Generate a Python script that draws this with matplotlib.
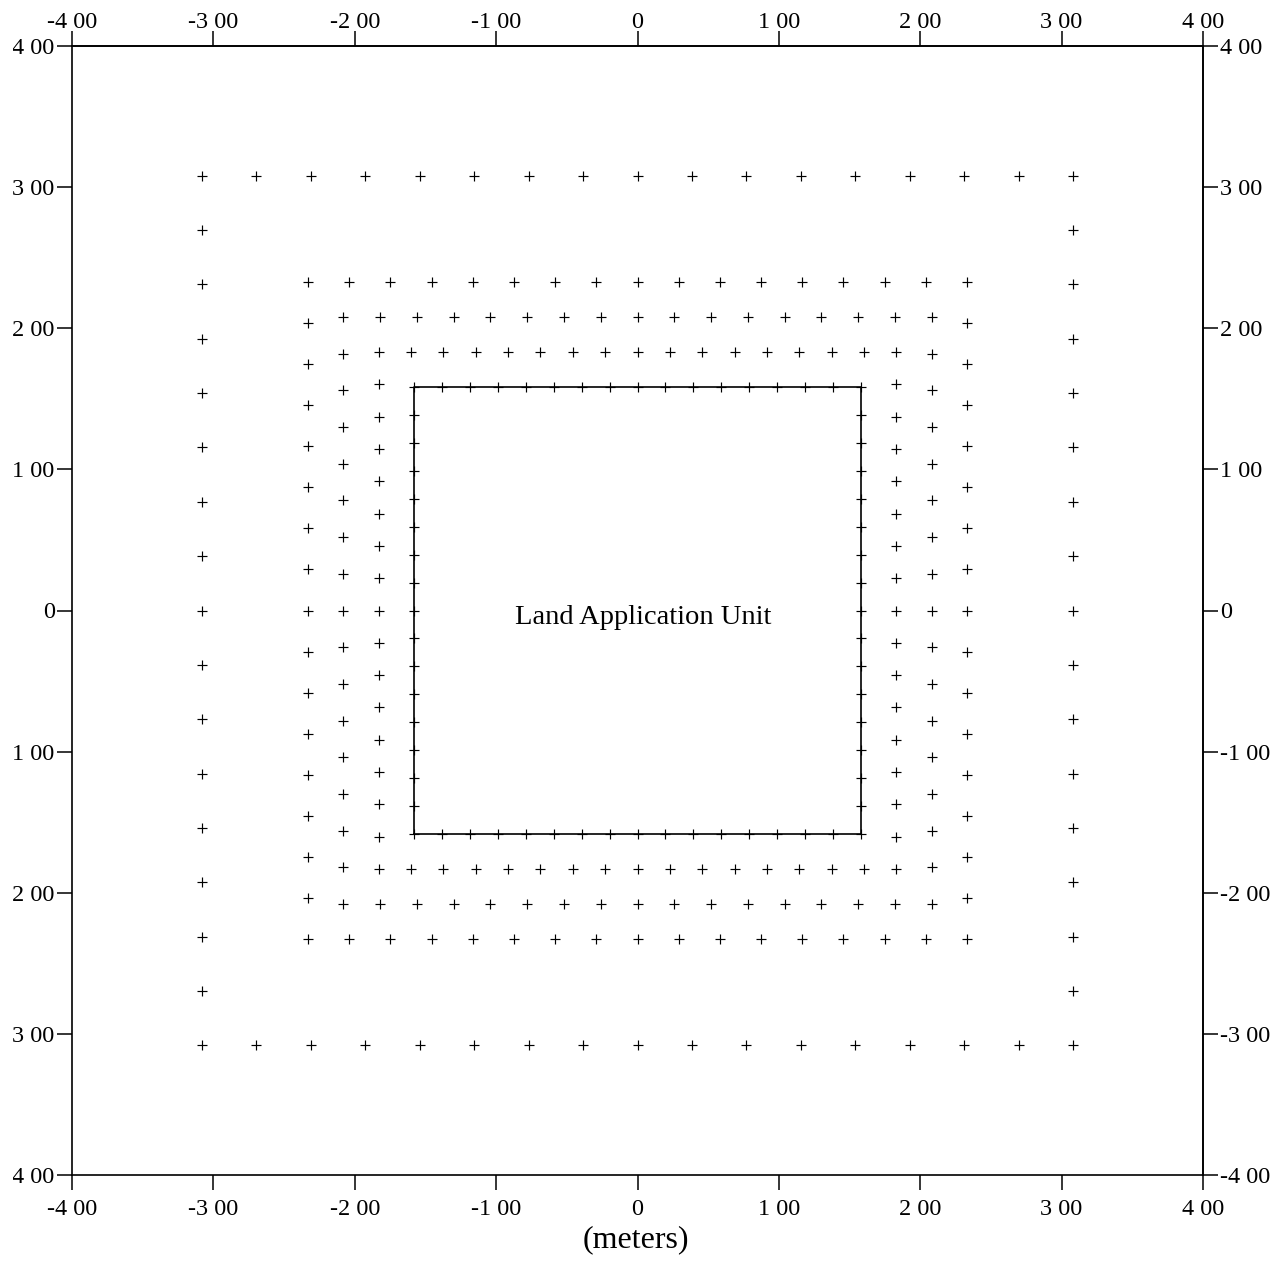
import numpy as np
import matplotlib
matplotlib.use("Agg")
import matplotlib.pyplot as plt
from matplotlib.transforms import Bbox

# Receptor rings around the land application unit (half-widths, metres)
ring_half_widths = [308.1, 233.1, 208.1, 183.1]
unit_half_width = 158.1
intervals_per_side = 16

# Axis ticks and their printed labels
tick_values = [-400, -300, -200, -100, 0, 100, 200, 300, 400]
x_tick_labels = ["-4 00", "-3 00", "-2 00", "-1 00", "0", "1 00", "2 00", "3 00", "4 00"]
y_tick_values = [400, 300, 200, 100, 0, -100, -200, -300, -400]
y_tick_labels = ["4 00", "3 00", "2 00", "1 00", "0", "-1 00", "-2 00", "-3 00", "-4 00"]

unit_label = "Land Application Unit"
axis_label = "(meters)"

plt.rcParams["font.family"] = ["Liberation Serif", "DejaVu Serif"]

TICK_STYLE = dict(direction="out", length=11, width=1.1, labelsize=17.5, color="black")


def perimeter(h, n):
    s = np.linspace(-h, h, n + 1)
    xs = np.concatenate([s, s, np.full_like(s, -h), np.full_like(s, h)])
    ys = np.concatenate([np.full_like(s, h), np.full_like(s, -h), s, s])
    pts = np.unique(np.round(np.column_stack([xs, ys]), 6), axis=0)
    return pts[:, 0], pts[:, 1]


fig = plt.figure(figsize=(12.8, 12.8), dpi=100)
ax = fig.add_axes([72 / 1280, 1 - 1175 / 1280, (1203 - 72) / 1280, (1175 - 46) / 1280])

# Unit boundary
u = unit_half_width
ax.plot([-u, u, u, -u, -u], [-u, -u, u, u, -u], color="black", lw=1.2, zorder=2)
ux, uy = perimeter(u, intervals_per_side)
ax.plot(ux, uy, linestyle="none", marker="+", markersize=7, mew=0.85, color="black", zorder=3)

# Receptor rings
for h in ring_half_widths:
    rx, ry = perimeter(h, intervals_per_side)
    ax.plot(rx, ry, linestyle="none", marker="+", markersize=7, mew=0.85, color="black", zorder=3)

ax.text(4, -5, unit_label, ha="center", va="center", fontsize=20.5)

ax.set_xlim(-400, 400)
ax.set_ylim(-400, 400)

ax.set_xticks(tick_values, labels=x_tick_labels)
ax.set_yticks(y_tick_values, labels=y_tick_labels)
for sp in ax.spines.values():
    sp.set_linewidth(1.2)

ax.tick_params(**TICK_STYLE)
ax.tick_params(axis="x", top=False, labeltop=False, pad=6)
ax.tick_params(axis="y", right=False, labelright=False, pad=1.5)

# Mirrored scales on the top and right edges
top = ax.secondary_xaxis("top")
top.set_xticks(tick_values, labels=x_tick_labels)
top.tick_params(**TICK_STYLE)
top.tick_params(pad=-1.3)
top.spines["top"].set_linewidth(1.2)

right = ax.secondary_yaxis("right")
right.set_yticks(y_tick_values, labels=y_tick_labels)
right.tick_params(**TICK_STYLE)
right.tick_params(pad=1.5)
right.spines["right"].set_linewidth(1.2)

# Left-hand labels are cut at the page margin
clip = Bbox.from_extents(13, 0, 1280, 1280)
for t in ax.yaxis.get_major_ticks():
    t.label1.set_clip_box(clip)
    t.label1.set_clip_on(True)

fig.text(636 / 1280, 1 - 1240 / 1280, axis_label, ha="center", va="center", fontsize=23)

fig.savefig("out.png", dpi=100)
